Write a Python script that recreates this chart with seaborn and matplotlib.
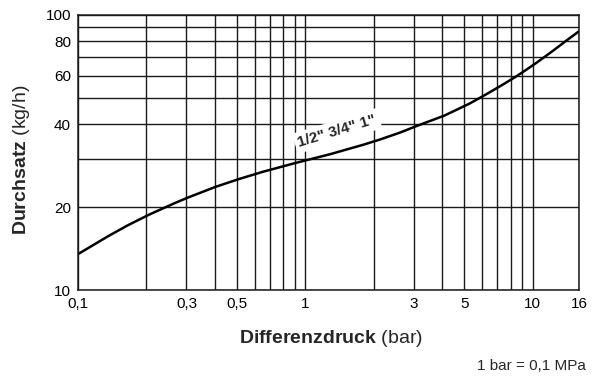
import numpy as np
import pandas as pd
import matplotlib
matplotlib.use("Agg")
import matplotlib.pyplot as plt
import matplotlib.ticker as mticker
import seaborn as sns

# Differenzdruck (bar) vs Durchsatz (kg/h)
druck = [0.1, 0.136, 0.166, 0.206, 0.267, 0.306, 0.403, 0.511, 0.653, 0.901, 1.01,
         1.28, 1.80, 2.13, 2.61, 3.11, 4.09, 5.27, 6.28, 7.31, 8.37, 9.33, 10.46,
         12.34, 14.13, 16]
durchsatz = [13.5, 15.7, 17.2, 18.8, 20.7, 21.7, 23.7, 25.3, 26.9, 28.9, 29.6,
             31.1, 33.7, 35.2, 37.3, 39.5, 43.0, 47.5, 51.5, 55.4, 59.3, 62.9, 67.1,
             74.1, 80.7, 87.0]

x_ticks = [0.1, 0.3, 0.5, 1, 3, 5, 10, 16]
x_labels = ["0,1", "0,3", "0,5", "1", "3", "5", "10", "16"]
y_ticks = [10, 20, 40, 60, 80, 100]
y_labels = ["10", "20", "40", "60", "80", "100"]

df = pd.DataFrame({"druck": druck, "durchsatz": durchsatz})

sns.set_style("white")
plt.rcParams["font.family"] = ["Liberation Sans", "DejaVu Sans"]
plt.rcParams["mathtext.fontset"] = "custom"
plt.rcParams["mathtext.rm"] = "Liberation Sans"
plt.rcParams["mathtext.bf"] = "Liberation Sans:bold"

fig = plt.figure(figsize=(6.02, 3.76), dpi=100)
ax = fig.add_axes([0.1296, 0.2287, 0.8322, 0.7323])

sns.lineplot(data=df, x="druck", y="durchsatz", color="black", linewidth=1.8, ax=ax)

ax.set_xscale("log")
ax.set_yscale("log")
ax.set_xlim(0.1, 16)
ax.set_ylim(10, 100)

ax.set_xticks(x_ticks)
ax.set_xticklabels(x_labels)
ax.set_yticks(y_ticks)
ax.set_yticklabels(y_labels)
ax.xaxis.set_minor_locator(mticker.LogLocator(base=10, subs=np.arange(1, 10)))
ax.yaxis.set_minor_locator(mticker.LogLocator(base=10, subs=np.arange(1, 10)))
ax.xaxis.set_minor_formatter(mticker.NullFormatter())
ax.yaxis.set_minor_formatter(mticker.NullFormatter())
ax.tick_params(which="both", length=0, labelsize=11, colors="black")
ax.tick_params(axis="y", pad=5)
ax.tick_params(axis="x", pad=5)
ax.grid(True, which="both", color="#1a1a1a", linewidth=1.0)
ax.set_axisbelow(True)

for s in ax.spines.values():
    s.set_color("#1a1a1a")
    s.set_linewidth(1.1)

ax.set_xlabel("")
ax.set_ylabel("")

# axis titles: bold name + regular unit
fig.text(331 / 602, 1 - 338.5 / 376, r"$\bf{Differenzdruck}$ (bar)", fontsize=14,
         ha="center", va="center")
fig.text(21.5 / 602, 1 - 160 / 376, r"$\bf{Durchsatz}$ (kg/h)", fontsize=14,
         ha="center", va="center", rotation=90)

# size label on the curve
ax.text(1.38, 37.8, '1/2" 3/4" 1"', fontsize=11, fontweight="bold", rotation=17,
        ha="center", va="center",
        bbox=dict(facecolor="white", edgecolor="none", pad=2.5))

fig.text(586 / 602, 1 - 366 / 376, "1 bar = 0,1 MPa", ha="right", va="center", fontsize=11)

fig.savefig("out.png", dpi=100)
